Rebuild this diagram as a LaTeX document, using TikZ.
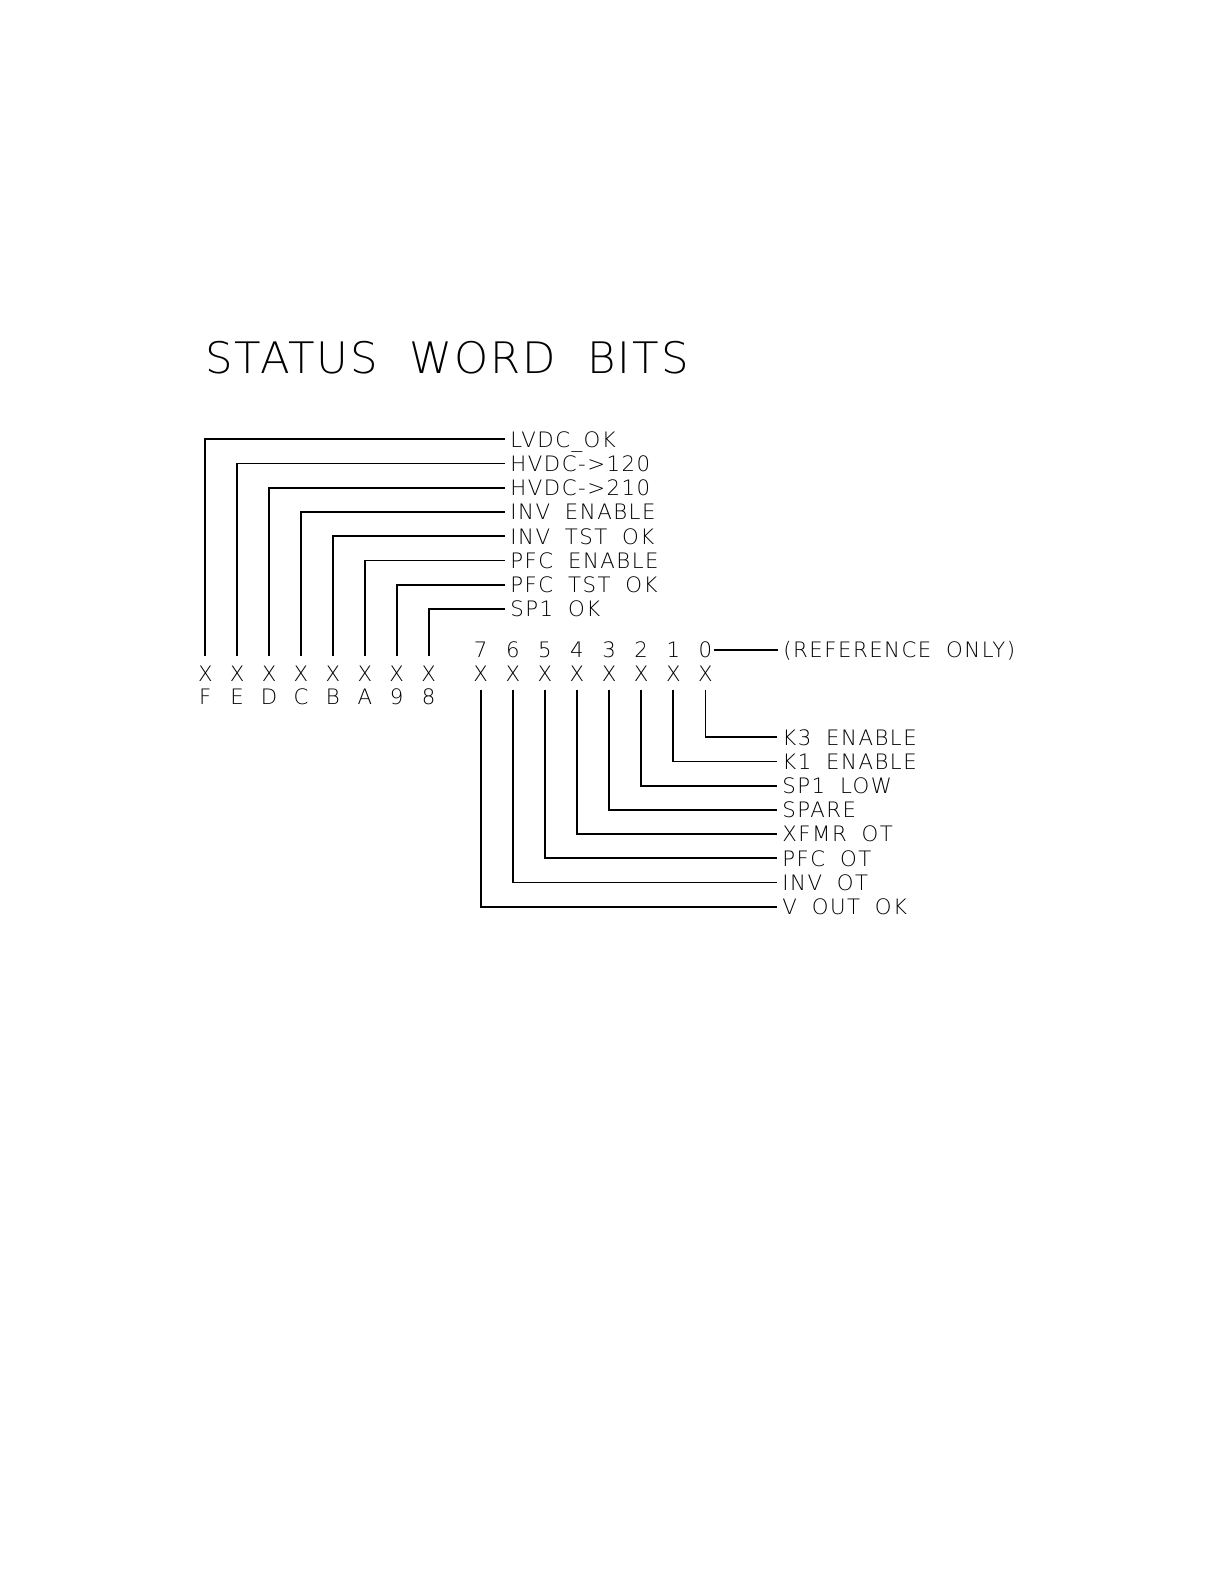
\documentclass[tikz,border=0pt]{standalone}
\usepackage{fontspec}
\IfFontExistsTF{DejaVu Sans ExtraLight}{%
  \newfontfamily\lblfont[LetterSpace=7,WordSpace=1.8]{DejaVu Sans ExtraLight}%
  \newfontfamily\ttlfont[LetterSpace=4.5,WordSpace=2.0]{DejaVu Sans ExtraLight}%
  \newcommand\lblsize{\fontsize{10.63}{12}\selectfont}%
  \newcommand\ttlsize{\fontsize{21.7}{26}\selectfont}%
}{%
  \newfontfamily\lblfont[LetterSpace=4,WordSpace=2]{Liberation Sans}%
  \newfontfamily\ttlfont[LetterSpace=2.5,WordSpace=2]{Liberation Sans}%
  \newcommand\lblsize{\fontsize{10.8}{12}\selectfont}%
  \newcommand\ttlsize{\fontsize{22.1}{26}\selectfont}%
}
\tikzset{
  wire/.style={line width=0.9pt},
  txt/.style={font=\lblfont\lblsize, text height=7.75pt, text depth=0pt},
  lbl/.style={txt, anchor=west, inner xsep=2.5pt, inner ysep=0pt},
  bitup/.style={txt, inner xsep=0pt, inner ysep=4.7pt},
  bitdn/.style={txt, inner xsep=0pt, inner ysep=4.0pt},
  idx/.style={txt, inner xsep=0.5pt, inner ysep=0pt},
  ttl/.style={font=\ttlfont\ttlsize, anchor=base west, inner sep=0pt}
}
\begin{document}
\begin{tikzpicture}[x=0.5pt,y=-0.5pt]
\useasboundingbox (0,0) rectangle (1224,1584);
\node[ttl] (title) at (205,373.3) {STATUS WORD BITS};
% high byte
\foreach \b/\t [count=\i from 0] in {F/{LVDC\_OK}, E/{HVDC->120}, D/{HVDC->210}, C/{INV ENABLE}, B/{INV TST OK}, A/{PFC ENABLE}, 9/{PFC TST OK}, 8/{SP1 OK}} {
  \node[bitup] (x\b) at ({205.3+31.9*\i},673.8) {X};
  \node[idx] (n\b) at ({205.3+31.9*\i},697) {\b};
  \node[lbl] (l\b) at (505,{439.3+24.25*\i}) {\t};
  \draw[wire] (x\b.north) |- (l\b.west);
}
% low byte
\foreach \b/\t [count=\i from 0] in {0/{K3 ENABLE}, 1/{K1 ENABLE}, 2/{SP1 LOW}, 3/{SPARE}, 4/{XFMR OT}, 5/{PFC OT}, 6/{INV OT}, 7/{V OUT OK}} {
  \node[bitdn] (y\b) at ({705.4-32.1*\i},673.5) {X};
  \node[idx] (d\b) at ({705.4-32.1*\i},650) {\b};
  \node[lbl] (r\b) at (777,{737.3+24.2*\i}) {\t};
  \draw[wire] (y\b.south) |- (r\b.west);
}
\node[lbl] (refonly) at (778,650) {(REFERENCE ONLY)};
\draw[wire] (d0.east) -- (refonly.west);
\end{tikzpicture}
\end{document}
